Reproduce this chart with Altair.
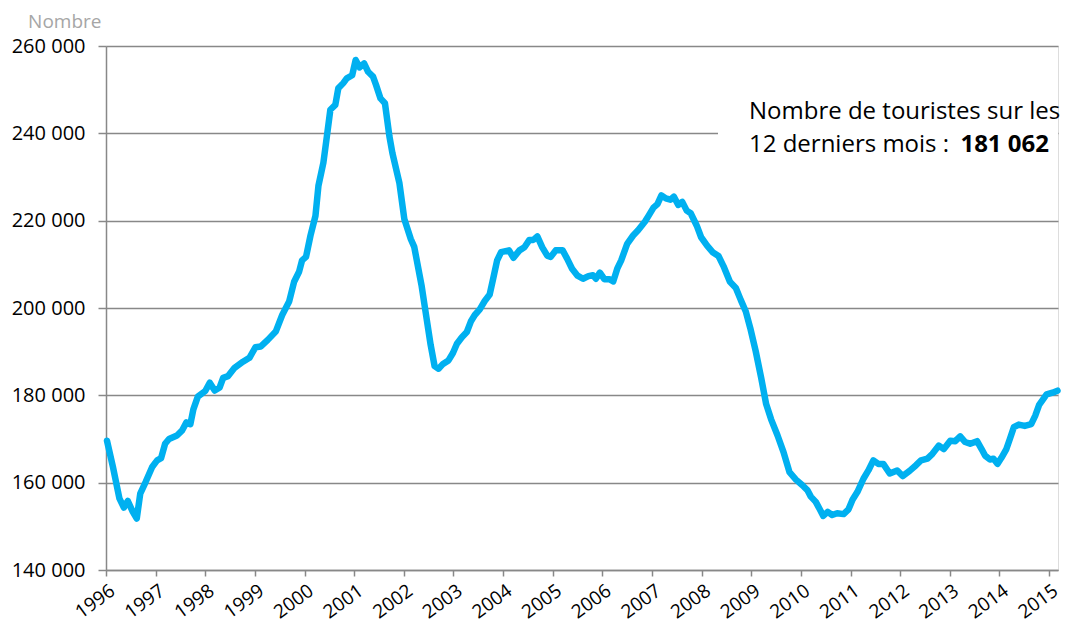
import altair as alt
import pandas as pd

# Time (decimal year) and 12-month rolling number of tourists
years = [
    1996.02, 1996.14, 1996.27, 1996.36, 1996.44, 1996.54, 1996.62, 1996.69, 1996.80, 1996.93,
    1997.03, 1997.11, 1997.19, 1997.27, 1997.43, 1997.53, 1997.62, 1997.70, 1997.76, 1997.85,
    1998.00, 1998.09, 1998.19, 1998.29, 1998.36, 1998.46, 1998.59, 1998.76, 1998.89, 1999.01,
    1999.12, 1999.26, 1999.42, 1999.55, 1999.69, 1999.79, 1999.89, 1999.95, 2000.03, 2000.12,
    2000.22, 2000.28, 2000.38, 2000.45, 2000.52, 2000.62, 2000.68, 2000.78, 2000.85, 2000.96,
    2001.03, 2001.11, 2001.20, 2001.28, 2001.38, 2001.44, 2001.53, 2001.62, 2001.71, 2001.77,
    2001.91, 2002.01, 2002.14, 2002.21, 2002.36, 2002.44, 2002.54, 2002.62, 2002.70, 2002.79,
    2002.90, 2002.99, 2003.07, 2003.17, 2003.27, 2003.35, 2003.43, 2003.53, 2003.63, 2003.73,
    2003.80, 2003.88, 2003.96, 2004.12, 2004.21, 2004.33, 2004.43, 2004.53, 2004.61, 2004.69,
    2004.79, 2004.89, 2004.96, 2005.06, 2005.20, 2005.29, 2005.39, 2005.50, 2005.61, 2005.72,
    2005.81, 2005.87, 2005.95, 2006.04, 2006.14, 2006.22, 2006.30, 2006.38, 2006.50, 2006.62,
    2006.72, 2006.86, 2006.93, 2007.03, 2007.11, 2007.19, 2007.28, 2007.37, 2007.44, 2007.53,
    2007.61, 2007.70, 2007.78, 2007.90, 2007.99, 2008.11, 2008.23, 2008.34, 2008.44, 2008.57,
    2008.69, 2008.79, 2008.89, 2008.98, 2009.09, 2009.20, 2009.30, 2009.40, 2009.53, 2009.65,
    2009.77, 2009.90, 2010.03, 2010.13, 2010.20, 2010.30, 2010.38, 2010.45, 2010.54, 2010.63,
    2010.73, 2010.86, 2010.96, 2011.04, 2011.14, 2011.26, 2011.36, 2011.46, 2011.56, 2011.66,
    2011.79, 2011.94, 2012.05, 2012.19, 2012.32, 2012.42, 2012.55, 2012.65, 2012.78, 2012.88,
    2013.01, 2013.11, 2013.21, 2013.31, 2013.41, 2013.55, 2013.64, 2013.71, 2013.81, 2013.88,
    2013.96, 2014.04, 2014.14, 2014.21, 2014.29, 2014.39, 2014.51, 2014.64, 2014.72, 2014.80,
    2014.95, 2015.07, 2015.17,
]
tourists = [
    169600, 163600, 156400, 154300, 155800, 153300, 151800, 157500, 160200, 163600,
    165100, 165600, 168900, 170000, 170800, 171900, 173800, 173400, 176800, 179700,
    181000, 182900, 181100, 181800, 184000, 184400, 186300, 187700, 188600, 191000,
    191200, 192700, 194600, 198400, 201500, 206000, 208300, 210900, 211700, 216600,
    221100, 228000, 233300, 239300, 245400, 246500, 250300, 251500, 252600, 253300,
    256800, 255100, 256000, 254100, 253000, 251100, 248000, 246900, 239300, 235500,
    228700, 220400, 215800, 214000, 205000, 199000, 191600, 186700, 186100, 187200,
    188000, 189700, 191800, 193300, 194500, 196900, 198400, 199700, 201600, 203100,
    206700, 210900, 212800, 213200, 211500, 213200, 213900, 215600, 215600, 216400,
    213900, 212000, 211700, 213200, 213200, 211300, 209000, 207400, 206700, 207300,
    207500, 206700, 208100, 206600, 206600, 206100, 209000, 210900, 214700, 216600,
    217800, 219800, 221100, 223000, 223800, 225800, 225100, 224800, 225500, 223600,
    224300, 222300, 221700, 218900, 216200, 214300, 212700, 211900, 209600, 206000,
    204600, 201800, 199200, 195400, 190100, 184000, 178000, 174500, 170800, 167000,
    162400, 160700, 159400, 158300, 156800, 155600, 153900, 152400, 153300, 152600,
    153000, 152800, 153900, 156100, 157900, 160900, 162800, 165100, 164300, 164300,
    162100, 162800, 161500, 162700, 164000, 165100, 165500, 166600, 168500, 167700,
    169600, 169500, 170600, 169300, 168900, 169500, 167700, 166200, 165300, 165500,
    164300, 165700, 167700, 170000, 172700, 173300, 173000, 173400, 175300, 177800,
    180200, 180600, 181062,
]

year_ticks = list(range(1996, 2016))
y_ticks = [140000, 160000, 180000, 200000, 220000, 240000, 260000]

note_line1 = "Nombre de touristes sur les"
note_line2 = "12 derniers mois :"
note_value = "181 062"

df = pd.DataFrame({"annee": years, "touristes": tourists})

FONT = "Open Sans"
GRID = "#888888"

x_scale = alt.Scale(domain=[1996, 2015.18], nice=False, zero=False)
y_scale = alt.Scale(domain=[140000, 260000], nice=False, zero=False)

line = alt.Chart(df).mark_line(
    color="#00B0F0", strokeWidth=6.5, strokeJoin="round", strokeCap="round"
).encode(
    x=alt.X(
        "annee:Q",
        scale=x_scale,
        axis=alt.Axis(
            values=year_ticks, format="d", title=None, grid=False,
            domainColor=GRID, domainWidth=1.5, tickColor=GRID, tickWidth=1.5,
            tickSize=6, labelAngle=-36, labelAlign="right", labelBaseline="top",
            labelPadding=5, labelOffset=1, labelFont=FONT, labelFontSize=19,
            labelColor="#000000", labelOverlap=False,
        ),
    ),
    y=alt.Y(
        "touristes:Q",
        scale=y_scale,
        axis=alt.Axis(
            values=y_ticks, title="Nombre", titleAngle=0, titleX=-5, titleY=-19,
            titleAlign="right", titleBaseline="alphabetic", titleColor="#A6A6A6",
            titleFont=FONT, titleFontSize=19, titleFontWeight="normal",
            labelExpr="replace(format(datum.value, ','), ',', ' ')",
            grid=True, gridColor=GRID, gridWidth=1.5,
            domainColor=GRID, domainWidth=1.5, tickColor=GRID, tickWidth=1.5,
            tickSize=8, labelPadding=13, labelFont=FONT, labelFontSize=20,
            labelColor="#000000",
        ),
    ),
)

# white box behind the annotation (hides the grid line)
box_df = pd.DataFrame({"x0": [2008.33], "x1": [2015.18], "y0": [232000], "y1": [250500]})
box = alt.Chart(box_df).mark_rect(color="white").encode(
    x=alt.X("x0:Q", scale=x_scale), x2="x1:Q",
    y=alt.Y("y0:Q", scale=y_scale), y2="y1:Q",
)

note_df = pd.DataFrame({"l1": [note_line1], "l2": [note_line2], "v": [note_value]})
t1 = alt.Chart(note_df).mark_text(
    align="left", baseline="alphabetic", font=FONT, fontSize=24, color="#000000"
).encode(x=alt.value(643), y=alt.value(73), text="l1:N")
t2 = alt.Chart(note_df).mark_text(
    align="left", baseline="alphabetic", font=FONT, fontSize=24, color="#000000"
).encode(x=alt.value(643), y=alt.value(106), text="l2:N")
t3 = alt.Chart(note_df).mark_text(
    align="right", baseline="alphabetic", font=FONT, fontSize=24, fontWeight="bold",
    color="#000000"
).encode(x=alt.value(943), y=alt.value(106), text="v:N")

chart = alt.layer(box, line, t1, t2, t3).properties(
    width=952, height=524,
    autosize=alt.AutoSizeParams(type="none"),
    padding={"left": 98, "top": 38, "right": 6, "bottom": 54},
).configure_view(stroke=None).configure(background="white")

chart.save("out.html", embed_options={"renderer": "svg", "actions": False})
